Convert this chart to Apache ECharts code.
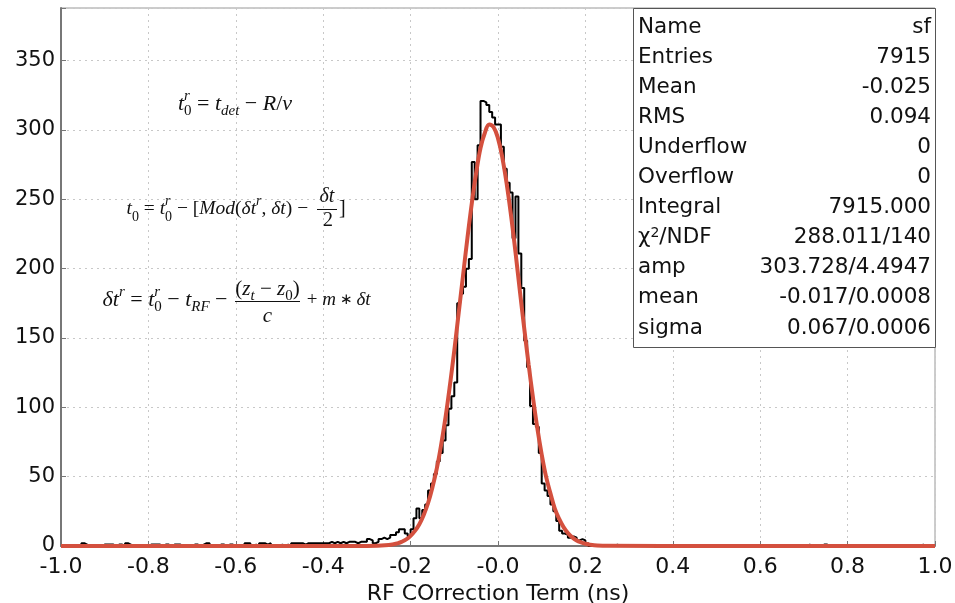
<!DOCTYPE html>
<html>
<head>
<meta charset="utf-8">
<script src="https://cdn.jsdelivr.net/npm/echarts@6/dist/echarts.min.js"></script>
<style>
html,body{margin:0;padding:0;background:#fff;}
#c{width:955px;height:603px;}
</style>
</head>
<body>
<div id="c"></div>
<script>
// ---------------- data ----------------
const xMin = -1.0, xMax = 1.0;           // histogram range (300 bins)
const binCounts = [
  0,0,0,0,0,0,0,2,1,0,0,0,0,0,1,1,1,1,0,1,
  1,0,2,1,0,0,0,0,0,0,1,1,1,1,0,1,1,0,1,1,
  1,0,0,0,0,1,1,0,1,2,2,0,0,0,1,1,0,1,1,0,
  0,0,0,2,2,0,1,0,2,2,1,2,0,0,0,1,0,1,0,2,
  2,2,2,1,2,2,2,2,2,2,2,2,3,2,3,2,3,2,3,3,
  3,2,3,3,3,5,4,2,3,5,6,5,6,8,8,10,12,12,9,7,
  12,20,27,20,26,30,40,45,52,61,67,76,87,99,108,118,175,182,187,200,
  207,277,250,289,321,320,318,313,309,304,304,288,272,262,255,222,252,211,186,148,
  129,101,88,86,67,45,40,36,30,25,18,11,9,8,6,7,6,4,5,4,
  2,0,0,0,0,0,0,0,0,0,1,0,0,0,0,0,0,0,0,0,
  0,0,0,0,0,0,0,0,0,0,0,0,0,0,0,0,0,0,0,0,
  0,0,0,0,0,0,0,0,0,0,0,0,0,0,0,0,0,0,0,0,
  0,0,0,0,0,0,0,0,0,0,0,0,0,0,0,0,1,0,0,0,
  0,1,1,0,0,0,0,0,0,0,0,0,0,0,0,0,0,0,0,0,
  0,0,0,0,0,0,0,0,0,0,0,0,0,0,0,1,0,0,0,0
];
// fit curve (x, counts)
const fitX = [-1.0,-0.5,-0.30,-0.25,-0.23,-0.22,-0.21,-0.20,-0.19,-0.18,-0.17,-0.16,-0.15,-0.14,-0.13,-0.12,-0.11,-0.10,-0.09,-0.08,-0.07,-0.06,-0.05,-0.04,-0.03,-0.02,-0.01,0.00,0.01,0.02,0.03,0.04,0.05,0.06,0.07,0.08,0.09,0.10,0.11,0.12,0.13,0.14,0.15,0.16,0.17,0.18,0.19,0.20,0.21,0.22,0.25,0.5,1.0];
const fitY = [0,0,0,0.7,1.9,3.1,4.8,7.3,10.9,15.7,22.4,31,42.4,56,73.2,93,116,141,168,195,222,247,269,287,298,304,302,294,280,261,238,212,184,157,131,107,85,66,50,38,27,19.5,13.6,9.3,6.2,4.0,2.6,1.6,1.0,0.6,0.1,0,0];

const xTickLabels = ['-1.0','-0.8','-0.6','-0.4','-0.2','-0.0','0.2','0.4','0.6','0.8','1.0'];
const yTickLabels = ['0','50','100','150','200','250','300','350'];
const xTitle = 'RF COrrection Term (ns)';

const statNames  = ['Name','Entries','Mean','RMS','Underflow','Overflow','Integral','{a|χ}{s|2}{a|/NDF}','amp','mean','sigma'];
const statValues = ['sf','7915','-0.025','0.094','0','0','7915.000','288.011/140','303.728/4.4947','-0.017/0.0008','0.067/0.0006'];

// ---------------- build ----------------
const nBins = binCounts.length;
const bw = (xMax - xMin) / nBins;
const histData = binCounts.map((c, k) => [xMin + k * bw, c]);
histData.push([xMax, binCounts[nBins - 1]]);
const fitData = fitX.map((x, i) => [x, fitY[i]]);

const serif = 'Liberation Serif';
function makeRich(fs) {
  const ss = Math.round(fs * 0.7);
  return {
    i:  {align: 'left', fontFamily: serif, fontStyle: 'italic', fontSize: fs, lineHeight: 30, color: '#111'},
    n:  {align: 'left', fontFamily: serif, fontSize: fs, lineHeight: 30, color: '#111'},
    sb: {align: 'left', fontFamily: serif, fontSize: ss, lineHeight: 19, verticalAlign: 'bottom', color: '#111'},
    si: {align: 'left', fontFamily: serif, fontStyle: 'italic', fontSize: ss, lineHeight: 19, verticalAlign: 'bottom', color: '#111'},
    sp: {align: 'left', fontFamily: serif, fontStyle: 'italic', fontSize: ss, lineHeight: 18, verticalAlign: 'top', color: '#111'},
    sp0:{align: 'left', fontFamily: serif, fontStyle: 'italic', fontSize: ss, lineHeight: 18, verticalAlign: 'top', width: 0, color: '#111'},
    ast:{align: 'left', fontFamily: serif, fontSize: Math.round(fs * 0.8), lineHeight: 30, color: '#111'}
  };
}
function eq(x, y, text, fs, align) {
  return {type: 'text', x: x, y: y, z: 20,
    style: {text: text, rich: makeRich(fs), align: align, verticalAlign: 'middle', fill: '#111'}};
}
function plain(x, y, text, italic, fs) {
  return {type: 'text', x: x, y: y, z: 20,
    style: {text: text, fontFamily: serif, fontStyle: italic ? 'italic' : 'normal', fontSize: fs,
      align: 'center', verticalAlign: 'middle', fill: '#111'}};
}

const graphics = [];
// equation 1
graphics.push(eq(235, 104, '{i|t}{sp0|r}{sb|0}{n| = }{i|t}{si|det}{n| − }{i|R}{n|/}{i|v}', 22, 'center'));
// equation 2
graphics.push(eq(313, 209, '{i|t}{sb|0}{n| = }{i|t}{sp0|r}{sb|0}{n| − [}{i|Mod}{n|(}{i|δt}{sp|r}{n|, }{i|δt}{n|) − }', 19.5, 'right'));
graphics.push(plain(327, 197, 'δt', true, 20));
graphics.push({type: 'line', z: 20, shape: {x1: 317, y1: 209.5, x2: 337, y2: 209.5}, style: {stroke: '#111', lineWidth: 1}});
graphics.push(plain(328, 221, '2', false, 20));
graphics.push(eq(339, 209, '{n|]}', 20, 'left'));
// equation 3
graphics.push(eq(233, 300, '{i|δt}{sp|r}{n| = }{i|t}{sp0|r}{sb|0}{n| − }{i|t}{si|RF}{n| − }', 22, 'right'));
graphics.push(eq(267.5, 289, '{n|(}{i|z}{si|t}{n| − }{i|z}{sb|0}{n|)}', 21, 'center'));
graphics.push({type: 'line', z: 20, shape: {x1: 235, y1: 301.5, x2: 300, y2: 301.5}, style: {stroke: '#111', lineWidth: 1}});
graphics.push(plain(267.5, 316, 'c', true, 21));
graphics.push(eq(302, 300, '{n| + }{i|m}{ast| ∗ }{i|δt}', 19, 'left'));

// stats box
graphics.push({type: 'rect', z: 15, shape: {x: 633.5, y: 8.5, width: 302, height: 339},
  style: {fill: '#fff', stroke: '#555', lineWidth: 1}});
statNames.forEach((nm, i) => {
  const y = 27 + 30.1 * i;
  graphics.push({type: 'text', x: 638, y: y, z: 16, style: {text: nm, fontFamily: 'DejaVu Sans', fontSize: 21.5,
    fill: '#111', align: 'left', verticalAlign: 'middle',
    rich: {a: {fontFamily: 'DejaVu Sans', fontSize: 21.5, fill: '#111'}, s: {fontFamily: 'DejaVu Sans', fontSize: 14, verticalAlign: 'top', lineHeight: 14, fill: '#111'}}}});
  graphics.push({type: 'text', x: 931, y: y, z: 16, style: {text: statValues[i], fontFamily: 'DejaVu Sans', fontSize: 21.5,
    fill: '#111', align: 'right', verticalAlign: 'middle'}});
});

const chart = echarts.init(document.getElementById('c'), null, {renderer: 'canvas'});
chart.setOption({
  animation: false,
  backgroundColor: '#fff',
  grid: {left: 61, right: 20, top: 8, bottom: 57, show: true, borderColor: '#999', borderWidth: 1,
    containLabel: false, outerBoundsMode: 'none'},
  xAxis: {
    type: 'value', min: xMin, max: xMax, interval: 0.2,
    axisLine: {show: true, onZero: false, lineStyle: {color: '#777', width: 2}},
    axisTick: {show: true, inside: true, length: 5, lineStyle: {color: '#777'}},
    axisLabel: {formatter: v => xTickLabels[Math.round((v - xMin) / 0.2)], fontFamily: 'DejaVu Sans', fontSize: 22, color: '#111', margin: 10},
    splitLine: {show: true, lineStyle: {type: [2, 4], color: '#c8c8c8', width: 1}},
    name: xTitle, nameLocation: 'middle', nameGap: 29,
    nameTextStyle: {fontFamily: 'DejaVu Sans', fontSize: 22, color: '#111'}
  },
  yAxis: {
    type: 'value', min: 0, max: 388, interval: 50,
    axisLine: {show: true, onZero: false, lineStyle: {color: '#777', width: 2}},
    axisTick: {show: true, inside: true, length: 5, lineStyle: {color: '#777'}},
    axisLabel: {formatter: v => { const i = Math.round(v / 50); return (Math.abs(v - i * 50) < 1e-6 && yTickLabels[i]) ? yTickLabels[i] : ''; },
      fontFamily: 'DejaVu Sans', fontSize: 21, color: '#111', margin: 6},
    splitLine: {show: true, lineStyle: {type: [2, 4], color: '#c8c8c8', width: 1}}
  },
  series: [
    {type: 'line', data: histData, step: 'end', symbol: 'none', z: 3,
      lineStyle: {color: '#000', width: 2}},
    {type: 'line', data: fitData, smooth: 0.4, symbol: 'none', z: 4,
      lineStyle: {color: '#d4503e', width: 4}}
  ],
  graphic: graphics
});
</script>
</body>
</html>
